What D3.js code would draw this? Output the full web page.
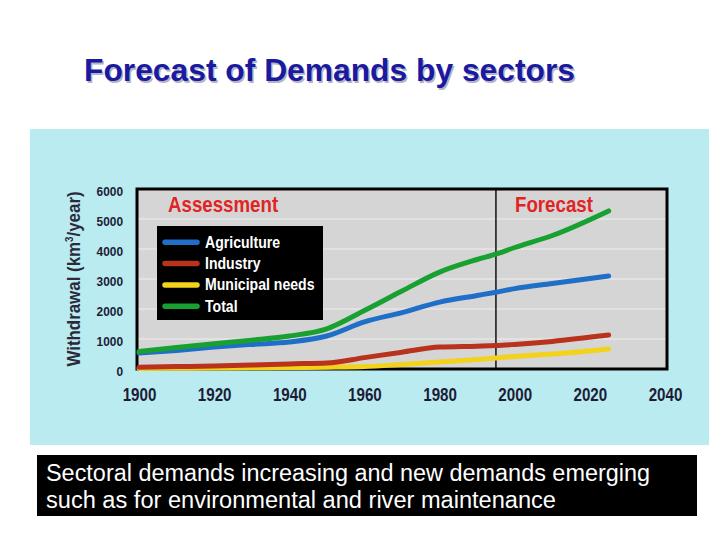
<!DOCTYPE html>
<html><head><meta charset="utf-8">
<script src="https://cdn.jsdelivr.net/npm/d3@7"></script>
<style>
html,body{margin:0;padding:0;background:#fff;}
svg{display:block;}
</style></head>
<body>
<svg id="chart" width="720" height="540"></svg>
<script>
const years = [1900, 1910, 1920, 1930, 1940, 1950, 1960, 1970, 1980, 1990, 1995, 2000, 2010, 2025];
const agriculture = [530, 620, 730, 820, 900, 1100, 1570, 1880, 2230, 2450, 2560, 2680, 2850, 3100];
const industry = [60, 80, 100, 130, 170, 200, 380, 560, 730, 760, 780, 820, 920, 1130];
const municipal = [20, 25, 30, 40, 50, 60, 80, 150, 230, 320, 370, 420, 500, 670];
const total = [580, 720, 840, 960, 1100, 1340, 1950, 2600, 3230, 3650, 3830, 4050, 4450, 5270];
const seriesNames = ["Agriculture", "Industry", "Municipal needs", "Total"];
const seriesColors = ["#1f6fc8", "#b8321c", "#f2d21a", "#18a030"];
const xTicks = [1900, 1920, 1940, 1960, 1980, 2000, 2020, 2040];
const yTicks = [0, 1000, 2000, 3000, 4000, 5000, 6000];
const forecastYear = 1995;
const titleText = "Forecast of Demands by sectors";
const captionLines = ["Sectoral demands increasing and new demands emerging", "such as for environmental and river maintenance"];

const svg = d3.select("#chart");
const sans = "Arial, 'Liberation Sans', sans-serif";

// title
svg.append("text").attr("x", 85.5).attr("y", 82.5)
  .attr("font-family", sans).attr("font-weight", "bold")
  .attr("font-size", 30.5).attr("fill", "#b4b4c4")
  .attr("textLength", 491).attr("lengthAdjust", "spacingAndGlyphs").text(titleText);
svg.append("text").attr("x", 84).attr("y", 81)
  .attr("font-family", sans).attr("font-weight", "bold")
  .attr("font-size", 30.5).attr("fill", "#1a1aa0")
  .attr("textLength", 491).attr("lengthAdjust", "spacingAndGlyphs").text(titleText);

// cyan panel
svg.append("rect").attr("x", 30).attr("y", 129).attr("width", 679).attr("height", 316).attr("fill", "#b9ebf0");

const x = d3.scaleLinear().domain([1900, 2040]).range([139, 665]);
const y = d3.scaleLinear().domain([0, 6000]).range([369, 189]);

// plot area
svg.append("rect").attr("x", 137).attr("y", 189).attr("width", 530).attr("height", 180).attr("fill", "#d5d5d5");
// grid
svg.append("g").selectAll("line").data(yTicks.slice(1, -1)).join("line")
  .attr("x1", 138).attr("x2", 666).attr("y1", d => y(d)).attr("y2", d => y(d))
  .attr("stroke", "#efefef").attr("stroke-width", 1.2);

// forecast divider
svg.append("line").attr("x1", x(forecastYear)).attr("x2", x(forecastYear))
  .attr("y1", 189).attr("y2", 369).attr("stroke", "#111").attr("stroke-width", 1.5);

// frame
svg.append("rect").attr("x", 137).attr("y", 189).attr("width", 530).attr("height", 180)
  .attr("fill", "none").attr("stroke", "#000").attr("stroke-width", 3);

// axes
const xAxis = svg.append("g").attr("transform", "translate(0,369)")
  .call(d3.axisBottom(x).tickValues(xTicks).tickSize(0).tickPadding(19).tickFormat(d3.format("d")));
xAxis.select(".domain").remove();
xAxis.selectAll("text").attr("font-family", sans).attr("font-weight", "bold")
  .attr("font-size", 18.5).attr("fill", "#1c1c36").attr("transform", "scale(0.82,1)");

const yAxis = svg.append("g").attr("transform", "translate(123,2)")
  .call(d3.axisLeft(y).tickValues(yTicks).tickSize(0).tickPadding(0).tickFormat(d3.format("d")));
yAxis.select(".domain").remove();
yAxis.selectAll("text").attr("font-family", sans).attr("font-weight", "bold")
  .attr("font-size", 12.5).attr("fill", "#1c1c36").attr("transform", "scale(0.95,1)");

// y label
svg.append("text").attr("transform", "translate(80,279) rotate(-90) scale(0.89,1)")
  .attr("text-anchor", "middle").attr("font-family", sans).attr("font-weight", "bold")
  .attr("font-size", 19).attr("fill", "#2a2a3a")
  .html("Withdrawal (km<tspan dy='-7' font-size='11'>3</tspan><tspan dy='7'>/year)</tspan>");

// lines
const seriesData = [agriculture, industry, municipal, total];
const line = d3.line().x((d, i) => x(years[i])).y(d => y(d)).curve(d3.curveMonotoneX);
const drawOrder = [2, 1, 0, 3];
svg.append("g").selectAll("path").data(drawOrder).join("path")
  .attr("d", k => line(seriesData[k]))
  .attr("fill", "none").attr("stroke", k => seriesColors[k])
  .attr("stroke-width", 5).attr("stroke-linecap", "round").attr("stroke-linejoin", "round");

// annotations
svg.append("text").attr("transform", "translate(168,212) scale(0.85,1)").attr("font-family", sans).attr("font-weight", "bold")
  .attr("font-size", 22).attr("fill", "#e02424").text("Assessment");
svg.append("text").attr("transform", "translate(515,212) scale(0.85,1)").attr("font-family", sans).attr("font-weight", "bold")
  .attr("font-size", 22).attr("fill", "#e02424").text("Forecast");

// legend
const lg = svg.append("g");
lg.append("rect").attr("x", 157).attr("y", 226).attr("width", 166).attr("height", 94).attr("fill", "#000");
const rows = lg.selectAll("g").data(seriesNames).join("g")
  .attr("transform", (d, i) => `translate(0,${242.3 + i * 21.3})`);
rows.append("line").attr("x1", 165).attr("x2", 197).attr("y1", 0).attr("y2", 0)
  .attr("stroke", (d, i) => seriesColors[i]).attr("stroke-width", 5.5).attr("stroke-linecap", "round");
rows.append("text").attr("transform", "translate(205,5.5) scale(0.88,1)").attr("font-family", sans).attr("font-weight", "bold")
  .attr("font-size", 16).attr("fill", "#fff").text(d => d);

// caption box
const captionWidths = [604, 510];
svg.append("rect").attr("x", 37).attr("y", 455).attr("width", 660).attr("height", 61).attr("fill", "#000");
svg.append("g").selectAll("text").data(captionLines).join("text")
  .attr("x", 46).attr("y", (d, i) => 481 + i * 27)
  .attr("font-family", sans).attr("font-size", 23.5)
  .attr("textLength", (d, i) => captionWidths[i]).attr("lengthAdjust", "spacingAndGlyphs")
  .attr("fill", "#fff").text(d => d);
</script>
</body></html>
